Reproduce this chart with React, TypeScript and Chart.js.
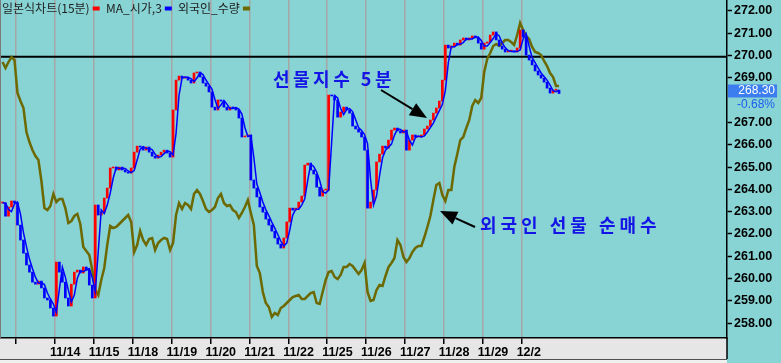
import React, { useEffect, useRef } from 'react';
import { Chart, registerables } from 'chart.js';

Chart.register(...registerables);

// ---------- data ----------
const dayLabels = ['', '11/14', '11/15', '11/18', '11/19', '11/20', '11/21', '11/22', '11/25', '11/26', '11/27', '11/28', '11/29', '12/2'];
// 268.00 is hidden behind the last-price box in the original
const priceTicks = [258, 259, 260, 261, 262, 263, 264, 265, 266, 267, 269, 270, 271, 272];
const refLevel = 269.95;
const lastChangePct = '-0.68%';
const legendNames = ['일본식차트(15분)', 'MA_시가,3', '외국인_수량'];

// KOSPI200 futures, sampled ~13 times per session (first 5 = end of 11/12)
const priceClose = [
  263.39, 262.8, 263.21, 263.48, 263.39,
  262.4, 261.73, 261.14, 260.61, 260.29, 259.84, 259.75, 259.89, 259.58, 259.13, 259.04, 258.68, 258.32,
  260.74, 260.29, 259.84, 259.13, 258.77, 259.75, 260.29, 260.38, 260.25, 260.52, 260.38, 259.71, 259.13,
  263.3, 262.85, 262.98, 263.61, 264.06, 264.96, 265.0, 264.87, 265.0, 264.87, 264.78, 264.73, 264.96,
  265.67, 265.94, 265.9, 265.76, 265.9, 265.67, 265.49, 265.4, 265.54, 265.67, 265.76, 265.63, 265.45,
  267.56, 268.9, 269.08, 268.99, 269.04, 268.9, 268.77, 269.22, 269.26, 269.04, 268.77, 268.63, 268.37,
  267.69, 267.56, 268.01, 267.96, 267.69, 267.56, 267.69, 267.65, 267.56, 267.2, 266.35, 266.39, 266.44,
  264.42, 264.06, 263.66, 263.21, 262.98, 262.67, 262.4, 262.13, 261.82, 261.55, 261.37, 261.82, 262.54,
  263.16, 263.07, 263.16, 263.43, 263.7, 265.09, 265.18, 264.87, 264.69, 264.1, 263.7, 263.97, 263.97,
  268.23, 268.19, 268.01, 267.24, 267.47, 267.69, 267.56, 267.42, 266.84, 266.71, 266.57, 266.35, 265.76,
  263.16, 263.43, 263.97, 265.23, 265.58, 265.94, 265.85, 266.21, 266.66, 266.75, 266.62, 266.53, 266.66,
  265.76, 266.21, 266.44, 266.35, 266.35, 266.44, 266.71, 266.84, 267.11, 267.42, 267.65, 267.96, 268.9,
  270.47, 270.34, 270.43, 270.56, 270.47, 270.7, 270.79, 270.7, 270.79, 270.88, 270.79, 270.56, 270.29,
  270.56, 270.61, 270.92, 271.06, 270.7, 270.43, 270.29, 270.16, 270.2, 270.2, 270.16, 270.34, 271.15,
  270.83, 270.02, 269.8, 269.58, 269.31, 269.13, 268.99, 268.81, 268.54, 268.32, 268.45, 268.45, 268.3,
];

// foreign net futures position (contracts), same sampling
const foreignNet = [
  13800, 13200, 13800, 14300, 14000,
  10700, 9900, 9200, 6800, 5800, 5000, 4400, 4000, 1900, -800, -1000, -600, 600,
  -200, 100, 100, -800, -2300, -2100, -1600, -1400, -2400, -4700, -5100, -5500, -7000,
  -9000, -9500, -8000, -6800, -4500, -2600, -2800, -2700, -2400, -2100, -1800, -1500, -2200,
  -5200, -4500, -3100, -4000, -4500, -3900, -3800, -5000, -4300, -4000, -3800, -3900, -5000,
  -4300, -1500, -300, -900, -300, -500, -900, 600, 1000, 600, -100, -900, -1200,
  -1000, -700, 200, 600, -300, -600, -500, -1000, -1200, -1800, -1300, -700, 0,
  -1300, -2500, -6600, -7300, -9200, -10300, -10700, -11700, -11300, -11500, -10800, -10600, -10300,
  -10000, -9700, -9600, -9500, -9900, -9900, -9600, -9300, -9200, -10300, -10400, -9200, -8000,
  -7200, -7100, -7700, -7900, -7500, -6700, -6700, -6400, -6600, -7000, -7400, -7000, -6300,
  -9200, -10100, -10000, -9000, -8500, -8600, -7600, -6700, -6300, -5800, -4000, -4500, -5700,
  -6200, -5800, -5200, -4800, -4600, -4600, -3700, -2700, -1600, 0, 1500, 1700, 500,
  -100, 1000, 1000, 3300, 4600, 6000, 6300, 7200, 8000, 9400, 10000, 9700, 10200,
  12800, 14100, 14700, 15400, 15600, 15400, 15700, 16000, 16000, 15800, 15500, 16500, 17700,
  17000, 16400, 16100, 15300, 14800, 14700, 14500, 13900, 13400, 12700, 12300, 11400, 11400,
];

// ---------- style ----------
const TEAL = '#88d3d4';
const RED = '#ff0000';
const BLUE = '#0000ff';
const OLIVE = '#6c6900';
const LEAD = 5;
const PER_DAY = 13;
const MA_WINDOW = 2; // slots (~3 fifteen-minute bars)
const X_MIN = -0.411;
const X_MAX = 18.28;
const Y_MIN = 257.336;
const Y_MAX = 272.493;
const Y2_MIN = -13800;
const Y2_MAX = 20000;
const AXIS_FONT = { family: 'Arial, "Liberation Sans", sans-serif', size: 12.5, weight: 'bold' as const };
const KR = '"Noto Sans CJK KR", sans-serif';
const LEGEND_X = [2, 106, 178];
const LEGEND_COLORS = [RED, BLUE, OLIVE];

const slotX = (i: number) => (i - LEAD + 0.5) / PER_DAY;
const opens = priceClose.map((c, i) => (i === 0 ? c : priceClose[i - 1]));
const candleData = priceClose.map((c, i) => ({ x: slotX(i), y: [opens[i], c] }));
const candleColors = priceClose.map((c, i) => (c >= opens[i] ? RED : BLUE));
const maData = priceClose.map((_, i) => {
  const s = opens.slice(Math.max(0, i - MA_WINDOW + 1), i + 1);
  return { x: slotX(i), y: s.reduce((a, b) => a + b, 0) / s.length };
});
const foreignData = foreignNet.map((v, i) => ({ x: slotX(i), y: v }));

function arrow(ctx: CanvasRenderingContext2D, x1: number, y1: number, x2: number, y2: number) {
  const ang = Math.atan2(y2 - y1, x2 - x1);
  const hl = 17, hw = 7;
  const bx = x2 - hl * Math.cos(ang), by = y2 - hl * Math.sin(ang);
  ctx.strokeStyle = '#000';
  ctx.fillStyle = '#000';
  ctx.lineWidth = 2;
  ctx.beginPath();
  ctx.moveTo(x1, y1);
  ctx.lineTo(bx, by);
  ctx.stroke();
  ctx.beginPath();
  ctx.moveTo(x2, y2);
  ctx.lineTo(bx + hw * Math.sin(ang), by - hw * Math.cos(ang));
  ctx.lineTo(bx - hw * Math.sin(ang), by + hw * Math.cos(ang));
  ctx.closePath();
  ctx.fill();
}

const noPad = (s: any) => {
  s.paddingLeft = 0;
  s.paddingRight = 0;
  s.paddingTop = 0;
  s.paddingBottom = 0;
};

const overlay = {
  id: 'overlay',
  beforeDraw(chart: any) {
    const { ctx, width, height, chartArea } = chart;
    ctx.save();
    ctx.fillStyle = TEAL;
    ctx.fillRect(0, 0, width, height);
    ctx.fillStyle = '#e6e6e6';
    ctx.fillRect(0, chartArea.bottom, chartArea.right, 21);
    ctx.fillStyle = '#f0f0f0';
    ctx.fillRect(0, chartArea.bottom + 21, chartArea.right, height);
    ctx.strokeStyle = '#505050';
    ctx.lineWidth = 1;
    ctx.beginPath();
    ctx.moveTo(0, chartArea.bottom + 21.5);
    ctx.lineTo(chartArea.right, chartArea.bottom + 21.5);
    ctx.stroke();
    ctx.restore();
  },
  beforeDatasetsDraw(chart: any) {
    const { ctx, chartArea, scales } = chart;
    const y = scales.y.getPixelForValue(refLevel);
    ctx.save();
    ctx.strokeStyle = '#000';
    ctx.lineWidth = 2;
    ctx.beginPath();
    ctx.moveTo(chartArea.left, y);
    ctx.lineTo(chartArea.right, y);
    ctx.stroke();
    ctx.restore();
  },
  afterDraw(chart: any) {
    const { ctx, chartArea, scales } = chart;
    ctx.save();
    ctx.strokeStyle = '#000';
    ctx.lineWidth = 1.5;
    ctx.beginPath();
    ctx.moveTo(chartArea.right, chartArea.bottom);
    ctx.lineTo(chartArea.right, chartArea.bottom + 21);
    ctx.stroke();
    ctx.strokeStyle = '#7a7a7a';
    ctx.lineWidth = 1;
    ctx.beginPath();
    ctx.moveTo(0.5, 0);
    ctx.lineTo(0.5, chartArea.bottom);
    ctx.stroke();

    // legend
    ctx.font = `12px ${KR}`;
    ctx.textBaseline = 'middle';
    legendNames.forEach((t, i) => {
      const x = LEGEND_X[i];
      ctx.fillStyle = '#1e1e1e';
      ctx.fillText(t, x, 8);
      const mx = x + ctx.measureText(t).width + 3;
      ctx.fillStyle = LEGEND_COLORS[i];
      ctx.fillRect(mx, 6.5, 7, 4);
    });

    // annotations
    ctx.fillStyle = '#1414e6';
    ctx.font = `bold 18px ${KR}`;
    (ctx as any).letterSpacing = '3.5px';
    ctx.fillText('선물지수 5분', 273, 79);
    (ctx as any).letterSpacing = '4px';
    ctx.fillText('외국인 선물 순매수', 480, 225);
    (ctx as any).letterSpacing = '0px';
    arrow(ctx, 381, 90, 427, 118);
    arrow(ctx, 475, 227, 440, 211);

    // last price box
    const last = priceClose[priceClose.length - 1];
    const py = scales.y.getPixelForValue(last);
    ctx.fillStyle = '#3c7ef0';
    ctx.fillRect(chartArea.right + 1, py - 9, 49, 13);
    ctx.font = '12px Arial, "Liberation Sans", sans-serif';
    ctx.textAlign = 'right';
    ctx.fillStyle = '#ffffff';
    ctx.fillText(last.toFixed(2), 775, py - 2.5);
    ctx.fillStyle = '#1a5ef0';
    ctx.fillText(lastChangePct, 775, py + 11);
    ctx.restore();
  },
};

export default function App() {
  const ref = useRef<HTMLCanvasElement>(null);
  useEffect(() => {
    document.body.style.margin = '0';
    const chart = new Chart(ref.current!, {
      data: {
        datasets: [
          {
            type: 'line',
            label: legendNames[2],
            data: foreignData,
            yAxisID: 'y2',
            borderColor: OLIVE,
            borderWidth: 2.5,
            pointRadius: 0,
            tension: 0,
            order: 3,
          },
          {
            type: 'bar',
            label: legendNames[0],
            data: candleData as any,
            yAxisID: 'y',
            backgroundColor: candleColors,
            barThickness: 2,
            minBarLength: 1,
            order: 2,
          },
          {
            type: 'line',
            label: legendNames[1],
            data: maData,
            yAxisID: 'y',
            borderColor: BLUE,
            borderWidth: 1.5,
            pointRadius: 0,
            tension: 0,
            order: 1,
          },
        ] as any,
      },
      options: {
        animation: false,
        responsive: false,
        devicePixelRatio: 1,
        events: [],
        layout: { padding: { left: 0, top: 0, right: 0, bottom: 5 } },
        plugins: { legend: { display: false }, tooltip: { enabled: false } },
        scales: {
          x: {
            type: 'linear',
            offset: false,
            min: X_MIN,
            max: X_MAX,
            afterBuildTicks: (s: any) => {
              s.ticks = dayLabels.map((_, i) => ({ value: i }));
            },
            afterFit: (s: any) => {
              s.height = 20;
              noPad(s);
            },
            ticks: {
              autoSkip: false,
              maxRotation: 0,
              align: 'start',
              labelOffset: -5,
              padding: 1,
              color: '#000',
              font: AXIS_FONT,
              callback: (_v: any, i: number) => dayLabels[i] ?? '',
            },
            grid: { offset: false, color: '#a6a6a6', lineWidth: 1.5, drawTicks: true, tickLength: 6, tickColor: '#000', tickWidth: 1.5 },
            border: { display: true, color: '#000', width: 1.5 },
          },
          y: {
            type: 'linear',
            position: 'right',
            min: Y_MIN,
            max: Y_MAX,
            afterBuildTicks: (s: any) => {
              s.ticks = priceTicks.map((v) => ({ value: v }));
            },
            afterFit: (s: any) => {
              s.width = 54;
              noPad(s);
            },
            ticks: { color: '#000', font: AXIS_FONT, padding: 2, callback: (v: any) => Number(v).toFixed(2) },
            grid: { drawOnChartArea: false, drawTicks: true, tickLength: 5, tickColor: '#000', tickWidth: 1.5 },
            border: { display: true, color: '#000', width: 1.5 },
          },
          y2: { type: 'linear', display: false, min: Y2_MIN, max: Y2_MAX },
        },
      } as any,
      plugins: [overlay],
    });
    return () => chart.destroy();
  }, []);
  return (
    <div style={{ position: 'fixed', left: 0, top: 0, width: 781, height: 363, background: TEAL }}>
      <canvas ref={ref} width={781} height={363} style={{ display: 'block', width: 781, height: 363 }} />
    </div>
  );
}
